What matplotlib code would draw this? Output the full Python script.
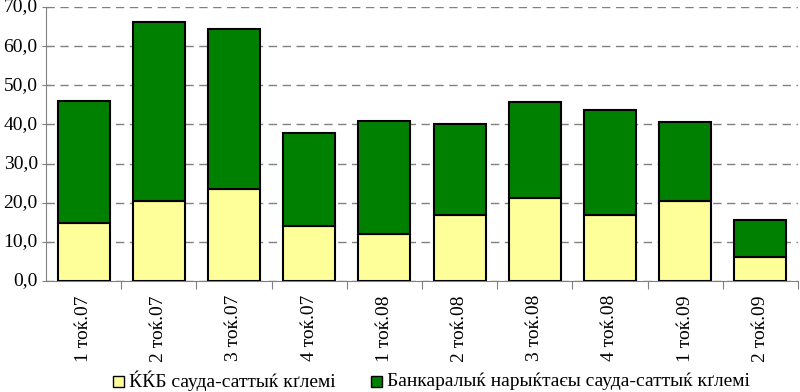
import numpy as np
import matplotlib.pyplot as plt
from matplotlib.patches import Rectangle

serif = 'Liberation Serif'
plt.rcParams['font.family'] = serif

# data
quarters = ['1 тоќ.07', '2 тоќ.07', '3 тоќ.07', '4 тоќ.07', '1 тоќ.08',
            '2 тоќ.08', '3 тоќ.08', '4 тоќ.08', '1 тоќ.09', '2 тоќ.09']
kkb = [14.8, 20.4, 23.6, 14.1, 12.0, 16.8, 21.2, 16.8, 20.4, 6.1]
interbank = [31.2, 45.8, 40.8, 23.7, 28.9, 23.3, 24.5, 26.9, 20.2, 9.5]
yvals = list(range(0, 71, 10))
legend_labels = ['ЌЌБ сауда-саттыќ кґлемі',
                 'Банкаралыќ нарыќтаєы сауда-саттыќ кґлемі']

yellow = '#ffff99'
green = '#008000'

fig = plt.figure(figsize=(8, 3.92), dpi=100)
ax = fig.add_axes([0.0575, 0.283, 0.94, 0.699])

x = np.arange(len(quarters))
w = 0.69
ax.bar(x, kkb, w, color=yellow, edgecolor='black', linewidth=1.5, zorder=3)
ax.bar(x, interbank, w, bottom=kkb, color=green, edgecolor='black', linewidth=1.5, zorder=3)

ax.set_ylim(0, 70)
ax.set_xlim(-0.5, len(quarters) - 0.5)
ax.set_yticks(yvals)
ax.yaxis.grid(True, linestyle=(0, (6, 4)), color='#808080', linewidth=1)
ax.set_axisbelow(True)
ax.set_xticks(x + 0.5)
ax.tick_params(axis='x', length=6, color='#808080', direction='out', labelbottom=False)
ax.tick_params(axis='y', length=6, color='#808080', direction='inout', labelleft=False)

# tick labels drawn as text so the serif face is kept
for v in yvals:
    ax.text(-0.011, v, f'{v:.1f}'.replace('.', ','), transform=ax.get_yaxis_transform(),
            ha='right', va='center', fontsize=14, family=serif)
for xi, q in zip(x, quarters):
    ax.text(xi, -0.051, q, transform=ax.get_xaxis_transform(), rotation=90,
            ha='center', va='top', fontsize=14, family=serif)

for s in ['top', 'right']:
    ax.spines[s].set_visible(False)
for s in ['left', 'bottom']:
    ax.spines[s].set_color('#808080')

# legend
sq_w, sq_h = 11 / 800, 11 / 392
for xs, xt, col, lab in [(113 / 800, 129 / 800, yellow, legend_labels[0]),
                         (371 / 800, 387 / 800, green, legend_labels[1])]:
    fig.add_artist(Rectangle((xs, 0.0128), sq_w, sq_h, transform=fig.transFigure,
                             facecolor=col, edgecolor='black', linewidth=1))
    fig.text(xt, 0.028, lab, ha='left', va='center', fontsize=14, family=serif)

fig.savefig('out.png', dpi=100)
